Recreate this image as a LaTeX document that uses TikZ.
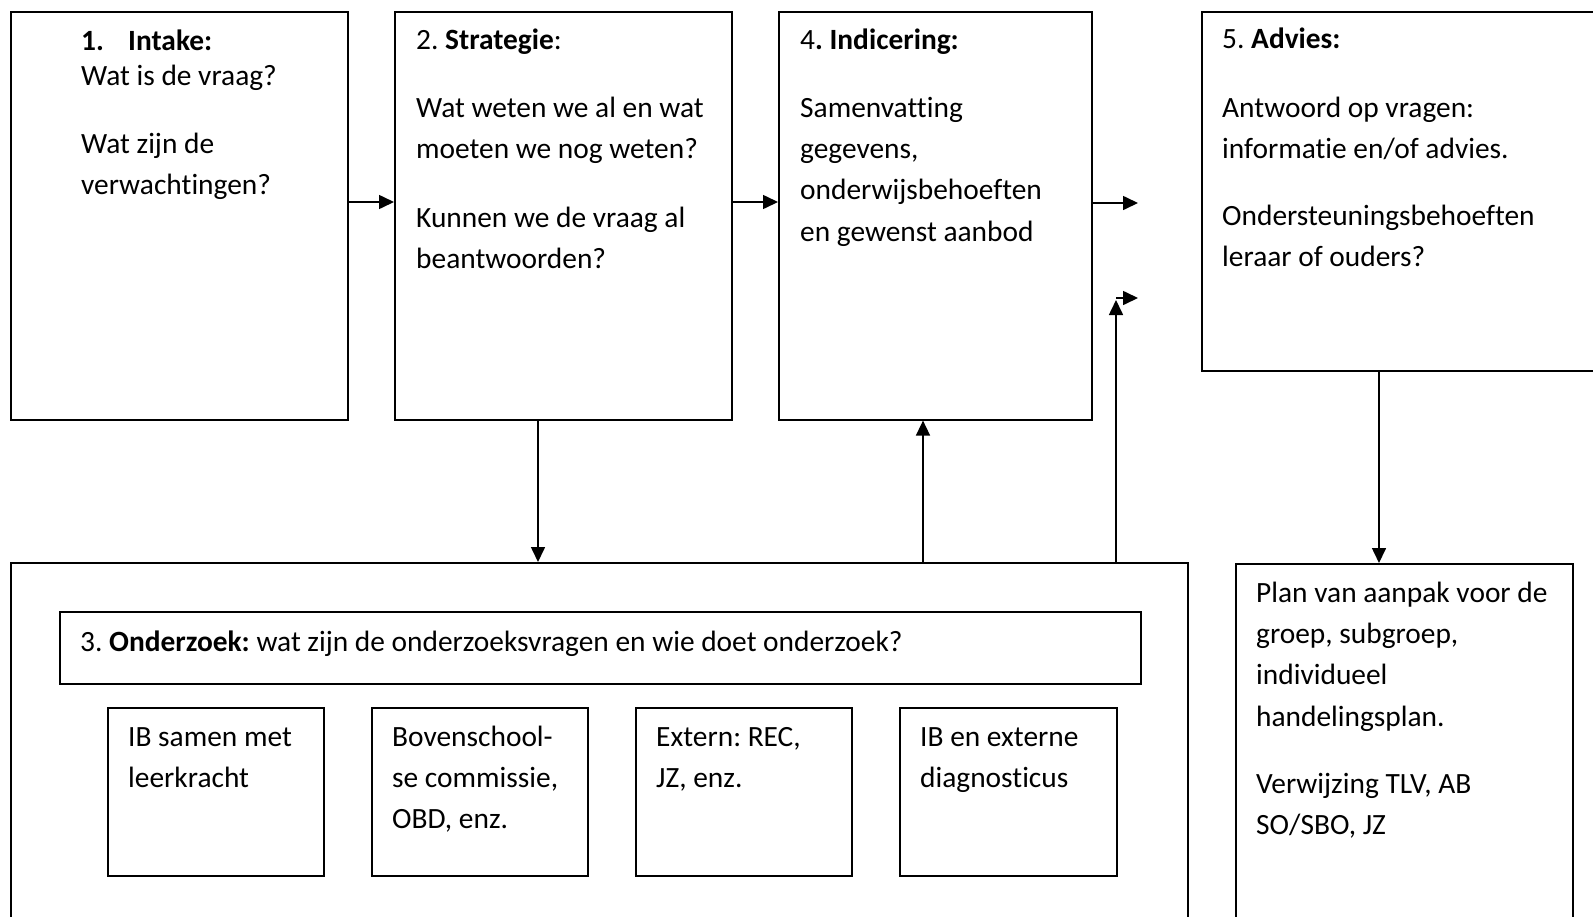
\documentclass[tikz,border=0pt]{standalone}
\usepackage{fontspec}
\setmainfont{Carlito}[Ligatures={NoCommon}]
\usetikzlibrary{arrows.meta}
\frenchspacing
\newcommand{\tbox}[1]{\parbox[t]{420pt}{\raggedright\fontsize{29.4}{41.4}\selectfont #1}}
\begin{document}
\begin{tikzpicture}[x=1pt,y=-1pt,
  box/.style={draw, line width=1.6pt, rectangle, inner sep=0pt, anchor=north west},
  arr/.style={line width=1.6pt, -{Triangle[length=15pt,width=14pt]}},
  txt/.style={anchor=base west, inner sep=0pt}]
\useasboundingbox (0,0) rectangle (1593,916);
\clip (0,0) rectangle (1593,916);
\fill[white] (0,0) rectangle (1593,916);

% boxes
\node[box, minimum width=337pt, minimum height=408pt] (b1) at (10,11) {};
\node[box, minimum width=337pt, minimum height=408pt] (b2) at (394,11) {};
\node[box, minimum width=313pt, minimum height=408pt] (b4) at (778,11) {};
\node[box, minimum width=420pt, minimum height=359pt] (b5) at (1201,11) {};
\node[box, minimum width=1177pt, minimum height=400pt] (b3) at (10,562) {};
\node[box, minimum width=1081pt, minimum height=72pt] (h3) at (59,611) {};
\node[box, minimum width=216pt, minimum height=168pt] (s1) at (107,707) {};
\node[box, minimum width=216pt, minimum height=168pt] (s2) at (371,707) {};
\node[box, minimum width=216pt, minimum height=168pt] (s3) at (635,707) {};
\node[box, minimum width=217pt, minimum height=168pt] (s4) at (899,707) {};
\node[box, minimum width=337pt, minimum height=400pt] (plan) at (1235,563) {};

% texts
\node[txt] (t1) at (81,50) {\tbox{\textbf{\makebox[47pt][l]{1.}Intake:}\\[-6.4pt]
  Wat is de vraag?\\[26.6pt] Wat zijn de\\ verwachtingen?}};
\node[txt] (t2) at (416,49) {\tbox{2. \textbf{Strategie}:\\[26.6pt]
  Wat weten we al en wat\\ moeten we nog weten?\\[27.2pt]
  Kunnen we de vraag al\\ beantwoorden?}};
\node[txt] (t4) at (800,49) {\tbox{4\textbf{. Indicering:}\\[26.6pt]
  Samenvatting\\ gegevens,\\ onderwijsbehoeften\\ en gewenst aanbod}};
\node[txt] (t5) at (1222,48) {\tbox{5. \textbf{Advies:}\\[27.6pt]
  Antwoord op vragen:\\ informatie en/of advies.\\[25.6pt]
  Ondersteuningsbehoeften\\ leraar of ouders?}};
\node[txt] (t3) at (80,651) {\fontsize{29.4}{41.4}\selectfont 3. \textbf{Onderzoek:} wat zijn de onderzoeksvragen en wie doet onderzoek?};
\node[txt] (ts1) at (128,746) {\tbox{IB samen met\\ leerkracht}};
\node[txt] (ts2) at (392,746) {\tbox{Bovenschool-\\ se commissie,\\ OBD, enz.}};
\node[txt] (ts3) at (656,746) {\tbox{Extern: REC,\\ JZ, enz.}};
\node[txt] (ts4) at (920,746) {\tbox{IB en externe\\ diagnosticus}};
\node[txt] (tp) at (1256,602) {\tbox{Plan van aanpak voor de\\ groep, subgroep,\\ individueel\\ handelingsplan.\\[25.8pt]
  Verwijzing TLV, AB\\ SO/SBO, JZ}};

% connectors
\coordinate (ay) at (0,202);
\draw[arr] (b1.east |- ay) -- (b2.west |- ay);
\draw[arr] (b2.east |- ay) -- (b4.west |- ay);
\coordinate (e1) at (1138,203);
\draw[arr] (b4.east |- e1) -- (e1);
\coordinate (x2) at (538,0);
\draw[arr] (b2.south -| x2) -- (b3.north -| x2);
\coordinate (x4) at (923,0);
\draw[arr] (b3.north -| x4) -- (b4.south -| x4);
\coordinate (k1) at (1116,300);
\coordinate (k2) at (1138,298);
\draw[arr] (b3.north -| k1) -- (k1);
\draw[arr] (k1 |- k2) -- (k2);
\coordinate (x5) at (1379,0);
\draw[arr] (b5.south -| x5) -- (plan.north -| x5);
\end{tikzpicture}
\end{document}
